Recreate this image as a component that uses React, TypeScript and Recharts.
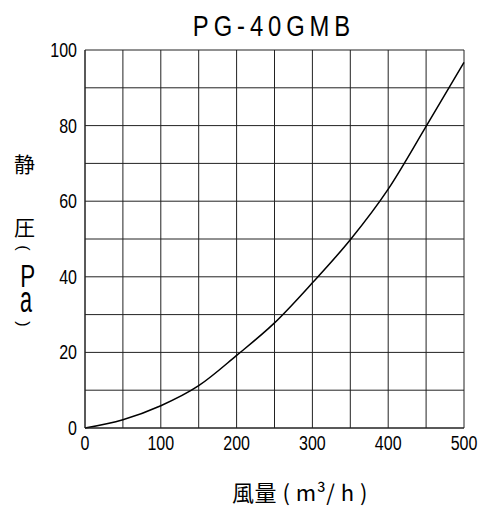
import { CartesianGrid, Line, LineChart, XAxis, YAxis } from "recharts";

const airflow = [0, 50, 100, 150, 200, 250, 300, 350, 400, 450, 500];
const staticPressure = [0, 2.2, 5.9, 11.2, 19.2, 27.8, 38.4, 49.8, 63.2, 79.8, 96.7];
const xTicks = [0, 50, 100, 150, 200, 250, 300, 350, 400, 450, 500];
const yTicks = [0, 10, 20, 30, 40, 50, 60, 70, 80, 90, 100];

const data = airflow.map((q, i) => ({ q, p: staticPressure[i] }));

const font = "'Liberation Sans', sans-serif";
const cjk = "'Noto Sans CJK JP', sans-serif";

// narrow tick text, like the CAD font in the source
function NarrowTick({ x, y, payload, step, anchor, dy }: any) {
  if (payload.value % step !== 0) return null;
  return (
    <text
      x={x}
      y={y}
      dy={dy}
      textAnchor={anchor}
      fill="#000"
      fontSize={20}
      fontFamily={font}
      transform={`translate(${x} ${y}) scale(0.8 1) translate(${-x} ${-y})`}
    >
      {payload.value}
    </text>
  );
}

export default function App() {
  const abs = (left: number, top: number) =>
    ({ position: "absolute", left, top, lineHeight: 1, whiteSpace: "nowrap" }) as const;

  return (
    <div
      style={{
        position: "absolute",
        left: 0,
        top: 0,
        width: 488,
        height: 507,
        background: "#fff",
        fontFamily: font,
        overflow: "hidden",
      }}
    >
      <div
        style={{
          ...abs(0, 12),
          width: 548,
          textAlign: "center",
          fontSize: 29,
          letterSpacing: 6,
          transform: "scaleX(0.82)",
          transformOrigin: "274px 0",
        }}
      >
        PG-40GMB
      </div>

      <div style={{ ...abs(14, 153), fontSize: 21, fontFamily: cjk }}>静</div>
      <div style={{ ...abs(14, 216), fontSize: 21, fontFamily: cjk }}>圧</div>
      <div style={{ ...abs(20, 240), fontSize: 16, transform: "rotate(90deg)" }}>(</div>
      <div style={{ ...abs(17, 260), fontSize: 32, transform: "scaleX(0.7)" }}>P</div>
      <div style={{ ...abs(16, 282), fontSize: 36, transform: "scaleX(0.6)" }}>a</div>
      <div style={{ ...abs(20, 316), fontSize: 16, transform: "rotate(90deg)" }}>)</div>

      <div style={{ ...abs(232, 480), fontSize: 22, fontFamily: cjk, letterSpacing: 0.5 }}>
        風量 ( m³/ h )
      </div>

      <LineChart
        width={488}
        height={507}
        data={data}
        margin={{ top: 50, right: 24, left: 0, bottom: 49 }}
      >
        <CartesianGrid stroke="#222" strokeWidth={1} />
        <XAxis
          dataKey="q"
          type="number"
          domain={[0, 500]}
          ticks={xTicks}
          tickLine={false}
          axisLine={{ stroke: "#222" }}
          height={30}
          tick={<NarrowTick step={100} anchor="middle" dy="0.71em" />}
          interval={0}
        />
        <YAxis
          type="number"
          domain={[0, 100]}
          ticks={yTicks}
          tickLine={false}
          axisLine={{ stroke: "#222" }}
          width={85}
          tick={<NarrowTick step={20} anchor="end" dy="0.355em" />}
          interval={0}
        />
        <Line
          dataKey="p"
          type="monotone"
          stroke="#000"
          strokeWidth={1.5}
          dot={false}
          isAnimationActive={false}
        />
      </LineChart>
    </div>
  );
}
